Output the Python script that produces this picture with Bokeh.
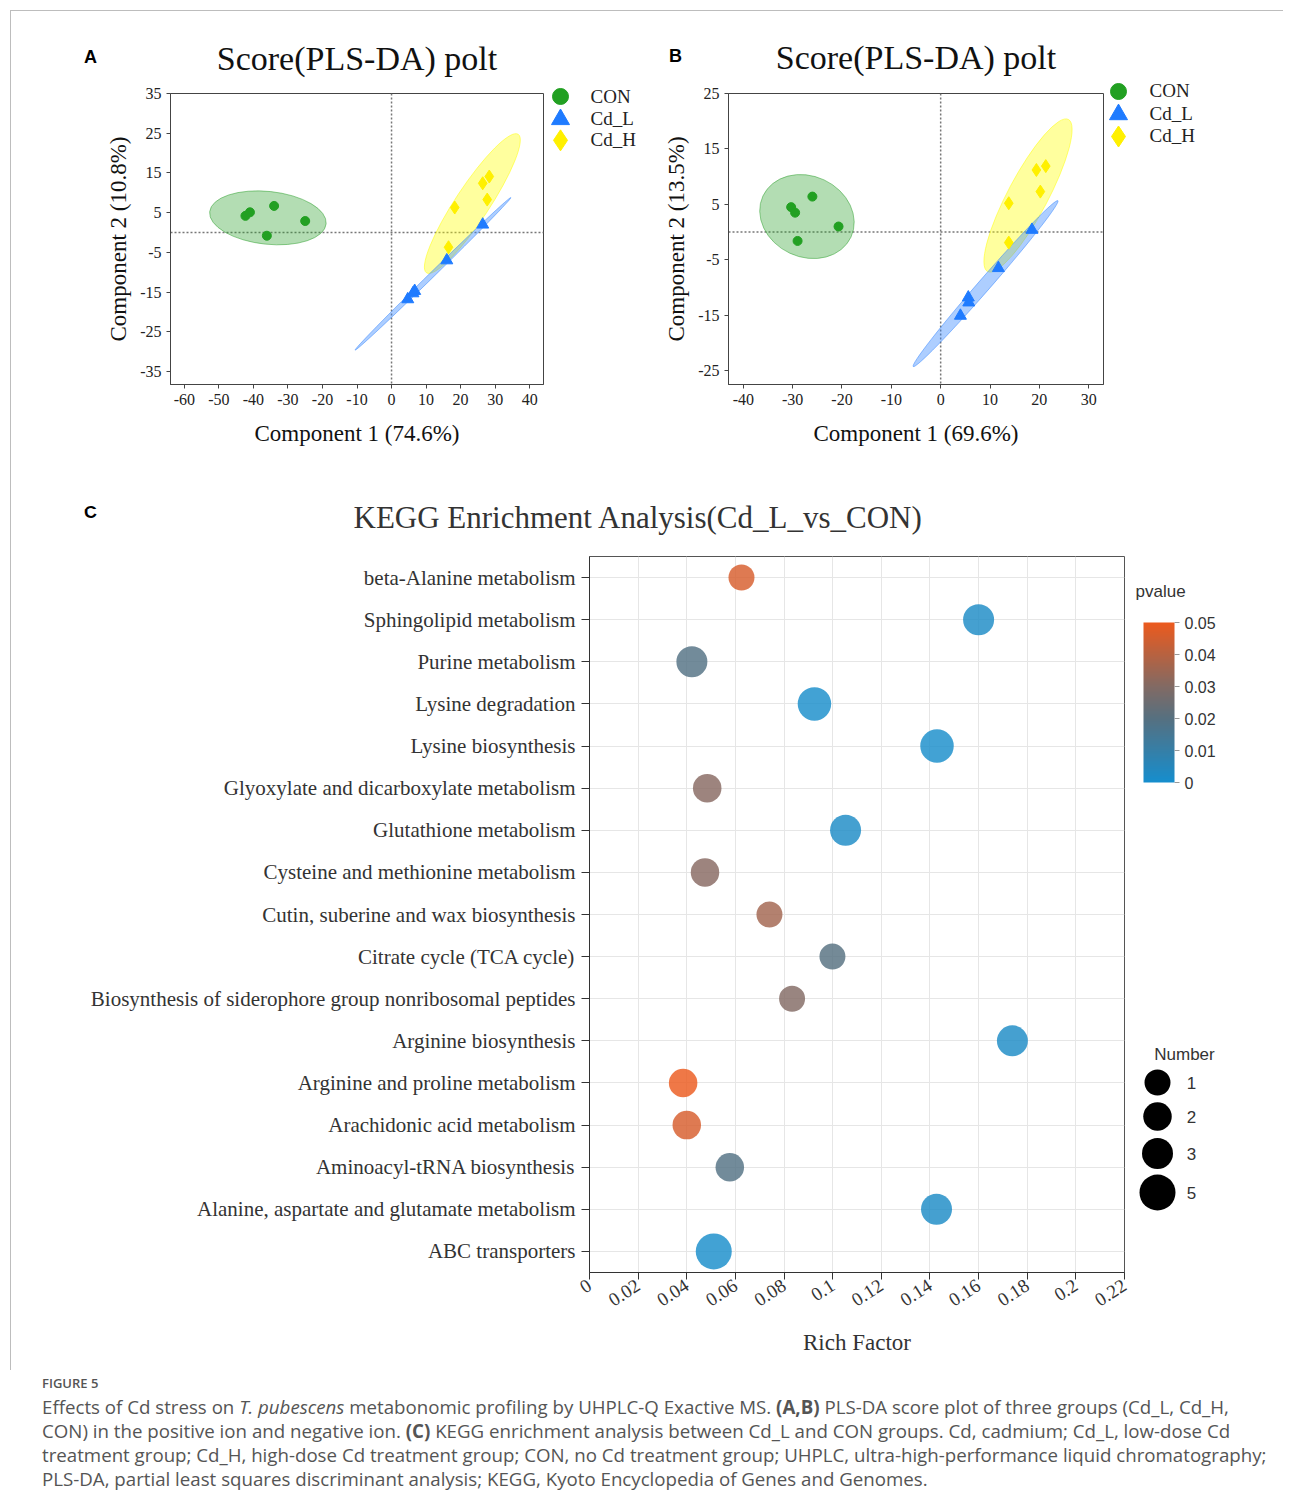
import math
from bokeh.plotting import figure
from bokeh.models import (Range1d, FactorRange, FixedTicker, Span, ColorBar,
                          LinearColorMapper, ColumnDataSource, Div)
from bokeh.layouts import column, row
from bokeh.embed import file_html
from bokeh.resources import INLINE
from bokeh.core.properties import value

# ---------------- Panel A (PLS-DA, positive ion) ----------------
a_con_x = [-42.3, -41.0, -34.0, -25.0, -36.1]
a_con_y = [4.2, 5.1, 6.7, 2.9, -0.8]
a_cdl_x = [26.4, 16.0, 6.7, 6.2, 4.7]
a_cdl_y = [2.0, -7.0, -14.7, -15.3, -16.8]
a_cdh_x = [28.3, 26.4, 27.7, 18.3, 16.5]
a_cdh_y = [14.1, 12.4, 8.3, 6.3, -3.7]
a_ell_group = ["CON", "Cd_H", "Cd_L"]
a_ell_cx = [-35.8, 23.4, 12.0]
a_ell_cy = [3.7, 7.3, -10.4]
a_ell_w = [33.9, 48.1, 63.1]
a_ell_h = [13.3, 8.5, 1.25]
a_ell_angle = [-6.0, 56.5, 44.4]
a_xticks = [-60, -50, -40, -30, -20, -10, 0, 10, 20, 30, 40]
a_xtick_labels = ["-60", "-50", "-40", "-30", "-20", "-10", "0", "10", "20", "30", "40"]
a_yticks = [-35, -25, -15, -5, 5, 15, 25, 35]
a_ytick_labels = ["-35", "-25", "-15", "-5", "5", "15", "25", "35"]
a_xlabel = "Component 1 (74.6%)"
a_ylabel = "Component 2 (10.8%)"

# ---------------- Panel B (PLS-DA, negative ion) ----------------
b_con_x = [-30.3, -29.5, -26.0, -20.7, -29.0]
b_con_y = [4.5, 3.5, 6.4, 1.0, -1.6]
b_cdl_x = [18.5, 11.7, 5.6, 5.7, 4.0]
b_cdl_y = [0.4, -6.5, -11.8, -12.7, -15.1]
b_cdh_x = [21.3, 19.4, 20.2, 13.8, 13.8]
b_cdh_y = [11.9, 11.2, 7.3, 5.2, -1.9]
b_ell_group = ["CON", "Cd_H", "Cd_L"]
b_ell_cx = [-27.1, 17.7, 9.1]
b_ell_cy = [2.8, 6.6, -9.3]
b_ell_w = [19.7, 34.9, 44.6]
b_ell_h = [14.6, 7.2, 2.2]
b_ell_angle = [-25.0, 62.0, 48.9]
b_xticks = [-40, -30, -20, -10, 0, 10, 20, 30]
b_xtick_labels = ["-40", "-30", "-20", "-10", "0", "10", "20", "30"]
b_yticks = [-25, -15, -5, 5, 15, 25]
b_ytick_labels = ["-25", "-15", "-5", "5", "15", "25"]
b_xlabel = "Component 1 (69.6%)"
b_ylabel = "Component 2 (13.5%)"

groups = ["CON", "Cd_L", "Cd_H"]

# ---------------- Panel C (KEGG enrichment) ----------------
pathways = [
    "beta-Alanine metabolism",
    "Sphingolipid metabolism",
    "Purine metabolism",
    "Lysine degradation",
    "Lysine biosynthesis",
    "Glyoxylate and dicarboxylate metabolism",
    "Glutathione metabolism",
    "Cysteine and methionine metabolism",
    "Cutin, suberine and wax biosynthesis",
    "Citrate cycle (TCA cycle)",
    "Biosynthesis of siderophore group nonribosomal peptides",
    "Arginine biosynthesis",
    "Arginine and proline metabolism",
    "Arachidonic acid metabolism",
    "Aminoacyl-tRNA biosynthesis",
    "Alanine, aspartate and glutamate metabolism",
    "ABC transporters",
]
rich_factor = [0.0625, 0.160, 0.0421, 0.0925, 0.1429, 0.0484, 0.1053, 0.0475, 0.074,
               0.0999, 0.0833, 0.1739, 0.0385, 0.040, 0.0577, 0.1427, 0.0511]
number = [1, 3, 3, 4, 4, 2, 3, 2, 1, 1, 1, 3, 2, 2, 2, 3, 5]
pvalue = [0.046, 0.002, 0.019, 0.001, 0.001, 0.031, 0.002, 0.031, 0.036,
          0.020, 0.030, 0.002, 0.050, 0.046, 0.019, 0.002, 0.001]
c_xticks = [0, 0.02, 0.04, 0.06, 0.08, 0.1, 0.12, 0.14, 0.16, 0.18, 0.2, 0.22]
c_xtick_labels = ["0", "0.02", "0.04", "0.06", "0.08", "0.1", "0.12", "0.14", "0.16", "0.18", "0.2", "0.22"]
p_ticks = [0, 0.01, 0.02, 0.03, 0.04, 0.05]
p_tick_labels = ["0", "0.01", "0.02", "0.03", "0.04", "0.05"]
number_legend = [1, 2, 3, 5]

# ---------------- styles ----------------
SERIF = "Liberation Serif"
SANS = "Liberation Sans"
TXT = "#222222"

STY = {
    "CON": dict(marker="circle", color="#22a022", size=9, leg=16, efill="#2ca02c", ealpha=0.36),
    "Cd_L": dict(marker="triangle", color="#1f7bff", size=12, leg=18, efill="#3385ff", ealpha=0.40),
    "Cd_H": dict(marker="diamond", color="#fff000", size=13, leg=21, efill="#ffff00", ealpha=0.38),
}


class Geo:
    """Page geometry of one figure, used to place out-of-frame legends/titles."""
    def __init__(self, page_left, page_top, width, height, left, right, top, bottom, xr, yr):
        self.w, self.h = width, height
        self.l, self.r, self.t, self.b = left, right, top, bottom
        self.fl = page_left + left
        self.fb = page_top + height - bottom
        self.fw = width - left - right
        self.fh = height - top - bottom
        self.xr, self.yr = xr, yr

    def dx(self, px):
        return self.xr[0] + (px - self.fl) / self.fw * (self.xr[1] - self.xr[0])

    def dy(self, py):
        return self.yr[0] + (self.fb - py) / self.fh * (self.yr[1] - self.yr[0])


def txt(p, g, px, py, text, font=SERIF, size="20px", align="left", style="normal", color=TXT):
    p.text(x=[g.dx(px)], y=[g.dy(py)], text=[text], text_font=value(font), text_font_size=value(size),
           text_align=align, text_baseline="middle", text_font_style=style, text_color=color,
           level="overlay")


def make_fig(g, xr, yr):
    p = figure(width=g.w, height=g.h, x_range=xr, y_range=yr, output_backend="svg",
               toolbar_location=None, title=None,
               min_border_left=g.l, min_border_right=g.r, min_border_top=g.t, min_border_bottom=g.b)
    p.background_fill_color = "white"
    p.border_fill_color = "white"
    return p


def pls_panel(g, letter, xticks, xlabels, yticks, ylabels, xlabel, ylabel, pts, ell, leg):
    p = make_fig(g, Range1d(*g.xr), Range1d(*g.yr))
    p.grid.visible = False
    p.outline_line_color = "#444444"
    p.outline_line_width = 1
    p.xaxis.ticker = FixedTicker(ticks=xticks)
    p.yaxis.ticker = FixedTicker(ticks=yticks)
    p.xaxis.major_label_overrides = dict(zip(xticks, xlabels))
    p.yaxis.major_label_overrides = dict(zip(yticks, ylabels))
    p.xaxis.axis_label = xlabel
    p.yaxis.axis_label = ylabel
    for ax in (p.xaxis, p.yaxis):
        ax.axis_line_color = "#444444"
        ax.major_tick_line_color = "#444444"
        ax.major_tick_in = 0
        ax.major_tick_out = 4
        ax.minor_tick_line_color = None
        ax.major_label_text_font = SERIF
        ax.major_label_text_font_size = "16px"
        ax.major_label_text_color = TXT
        ax.major_label_standoff = 5
        ax.axis_label_text_font = SERIF
        ax.axis_label_text_font_size = "23px"
        ax.axis_label_text_font_style = "normal"
        ax.axis_label_text_color = "#111111"
    p.xaxis.axis_label_standoff = 13
    p.yaxis.axis_label_standoff = 6

    for dim in ("height", "width"):
        p.add_layout(Span(location=0, dimension=dim, line_color="#777777", line_width=1.5,
                          line_dash="2 2", level="underlay"))

    grp, cx, cy, ew, eh, ea = ell
    for i in range(len(grp)):
        s = STY[grp[i]]
        p.ellipse(x=[cx[i]], y=[cy[i]], width=[ew[i]], height=[eh[i]], angle=[ea[i]], angle_units="deg",
                  fill_color=s["efill"], fill_alpha=s["ealpha"], line_color=s["efill"], line_alpha=0.5,
                  line_width=1)
    for gname in ["Cd_L", "Cd_H", "CON"]:
        xs, ys = pts[gname]
        s = STY[gname]
        p.scatter(xs, ys, marker=s["marker"], size=s["size"], fill_color=s["color"], line_color=s["color"])

    # title & panel letter
    txt(p, g, g.fl + g.fw / 2, 57, "Score(PLS-DA) polt", size="34px", align="center", color="#111111")
    txt(p, g, letter[1], 55, letter[0], font=SANS, size="18px", align="center", style="bold", color="#000000")

    # legend (outside the frame): one renderer so markers are not culled
    mx, tx, rows = leg
    lsrc = ColumnDataSource(dict(
        x=[g.dx(mx)] * len(groups),
        y=[g.dy(my) for my, _ in rows],
        marker=[STY[k]["marker"] for k in groups],
        size=[STY[k]["leg"] for k in groups],
        color=[STY[k]["color"] for k in groups],
    ))
    p.scatter("x", "y", marker="marker", size="size", fill_color="color", line_color="color",
              source=lsrc, level="overlay")
    for gname, (_, ty) in zip(groups, rows):
        txt(p, g, tx, ty, gname, size="19px", color="#222222")
    return p


# ---------------- build A ----------------
gA = Geo(11, 11, 637, 459, 159, 105, 81, 86, xr=(-64, 44), yr=(-38.25, 35))
pa = pls_panel(gA, ("A", 90), a_xticks, a_xtick_labels, a_yticks, a_ytick_labels, a_xlabel, a_ylabel,
               {"CON": (a_con_x, a_con_y), "Cd_L": (a_cdl_x, a_cdl_y), "Cd_H": (a_cdh_x, a_cdh_y)},
               (a_ell_group, a_ell_cx, a_ell_cy, a_ell_w, a_ell_h, a_ell_angle),
               (560, 590, [(95, 95), (118, 117), (139, 138)]))

# ---------------- build B ----------------
gB = Geo(648, 11, 635, 459, 80, 180, 82, 86, xr=(-43, 33), yr=(-27.5, 25))
pb = pls_panel(gB, ("B", 675), b_xticks, b_xtick_labels, b_yticks, b_ytick_labels, b_xlabel, b_ylabel,
               {"CON": (b_con_x, b_con_y), "Cd_L": (b_cdl_x, b_cdl_y), "Cd_H": (b_cdh_x, b_cdh_y)},
               (b_ell_group, b_ell_cx, b_ell_cy, b_ell_w, b_ell_h, b_ell_angle),
               (1118, 1149, [(91, 90), (114, 113), (136, 135)]))

# ---------------- build C ----------------
factors = list(reversed(pathways))
gC = Geo(11, 470, 1272, 900, 578, 159, 86, 98, xr=(0, 0.22), yr=(0, len(factors)))
pc = make_fig(gC, Range1d(0, 0.22), FactorRange(factors=factors))
pc.outline_line_color = "#555555"
pc.xaxis.ticker = FixedTicker(ticks=c_xticks)
pc.xgrid.ticker = FixedTicker(ticks=c_xticks)
pc.xaxis.major_label_overrides = dict(zip(c_xticks, c_xtick_labels))
pc.xaxis.major_label_orientation = math.pi / 5.5
pc.grid.grid_line_color = "#e6e6e6"
pc.grid.grid_line_width = 1
pc.xaxis.axis_label = "Rich Factor"
for ax in (pc.xaxis, pc.yaxis):
    ax.axis_line_color = "#333333"
    ax.major_tick_line_color = "#333333"
    ax.major_tick_in = 0
    ax.minor_tick_line_color = None
    ax.major_label_text_font = SERIF
    ax.major_label_text_color = "#333333"
    ax.axis_label_text_font = SERIF
    ax.axis_label_text_font_size = "23px"
    ax.axis_label_text_font_style = "normal"
    ax.axis_label_text_color = "#333333"
pc.xaxis.major_tick_out = 7
pc.xaxis.major_label_text_font_size = "19px"
pc.xaxis.major_label_standoff = 4
pc.xaxis.axis_label_standoff = 15
pc.yaxis.major_tick_out = 8
pc.yaxis.major_label_text_font_size = "21px"
pc.yaxis.major_label_standoff = 6


def lerp_palette(anchors, n=256):
    out = []
    for i in range(n):
        t = i / (n - 1)
        for (t0, c0), (t1, c1) in zip(anchors[:-1], anchors[1:]):
            if t0 <= t <= t1:
                f = (t - t0) / (t1 - t0)
                out.append("#%02x%02x%02x" % tuple(int(round(a + (b - a) * f)) for a, b in zip(c0, c1)))
                break
    return out


palette = lerp_palette([(0.0, (22, 142, 206)), (0.4, (86, 112, 128)), (0.6, (130, 106, 100)),
                        (1.0, (236, 90, 30))])
mapper = LinearColorMapper(palette=palette, low=min(p_ticks), high=max(p_ticks))

src = ColumnDataSource(dict(name=pathways, rich=rich_factor, number=number, pvalue=pvalue,
                            size=[23.5 + 2.5 * n for n in number]))
pc.scatter("rich", "name", size="size", source=src,
           fill_color={"field": "pvalue", "transform": mapper}, fill_alpha=0.82, line_color=None)

txt(pc, gC, 638, 517, "KEGG Enrichment Analysis(Cd_L_vs_CON)", size="31px", align="center", color="#333333")
txt(pc, gC, 90, 512, "C", font=SANS, size="18px", align="center", style="bold", color="#000000")

# colour bar
txt(pc, gC, 1135, 591, "pvalue", font=SANS, size="17px", color="#333333")
cb = ColorBar(color_mapper=mapper, location=(1143 - gC.fl, gC.fb - 782), width=31, height=160, padding=0,
              ticker=FixedTicker(ticks=p_ticks),
              major_label_overrides=dict(zip(p_ticks, p_tick_labels)),
              major_label_text_font=SANS, major_label_text_font_size="16px", major_label_text_color="#333333",
              major_tick_line_color="#999999", major_tick_in=0, major_tick_out=5, label_standoff=5,
              minor_tick_line_color=None, bar_line_color=None, border_line_color=None,
              background_fill_color=None)
pc.add_layout(cb)

# size legend
txt(pc, gC, 1184, 1054, "Number", font=SANS, size="17px", align="center", color="#333333")
leg_y = [1082, 1116, 1153, 1192]
pc.scatter([gC.dx(1157)] * len(number_legend), [gC.dy(y) for y in leg_y],
           size=[23.5 + 2.5 * n for n in number_legend], fill_color="black", line_color=None, level="overlay")
for n, y in zip(number_legend, leg_y):
    txt(pc, gC, 1191, y, str(n), font=SANS, size="17px", align="center", color="#333333")

# ---------------- caption ----------------
caption_html = (
    '<div style="font-family:\'Open Sans\',sans-serif;color:#555555;padding-left:37px;padding-top:0px;">'
    '<div style="font-size:13px;font-weight:600;line-height:16px;">FIGURE 5</div>'
    '<div style="font-size:18.7px;line-height:24px;margin-top:4px;white-space:nowrap;">'
    'Effects of Cd stress on <i>T. pubescens</i> metabonomic profiling by UHPLC-Q Exactive MS. '
    '<b>(A,B)</b> PLS-DA score plot of three groups (Cd_L, Cd_H,<br>'
    'CON) in the positive ion and negative ion. <b>(C)</b> KEGG enrichment analysis between Cd_L and CON '
    'groups. Cd, cadmium; Cd_L, low-dose Cd<br>'
    'treatment group; Cd_H, high-dose Cd treatment group; CON, no Cd treatment group; UHPLC, '
    'ultra-high-performance liquid chromatography;<br>'
    'PLS-DA, partial least squares discriminant analysis; KEGG, Kyoto Encyclopedia of Genes and Genomes.'
    '</div></div>'
)
cap = Div(text=caption_html, width=1272, height=125)

framed = column(row(pa, pb), pc,
                styles={"border-top": "1px solid #bdbdbd", "border-left": "1px solid #bdbdbd",
                        "margin-left": "10px", "margin-top": "10px"})
layout = column(framed, cap)

open("out.html", "w").write(file_html(layout, INLINE))
